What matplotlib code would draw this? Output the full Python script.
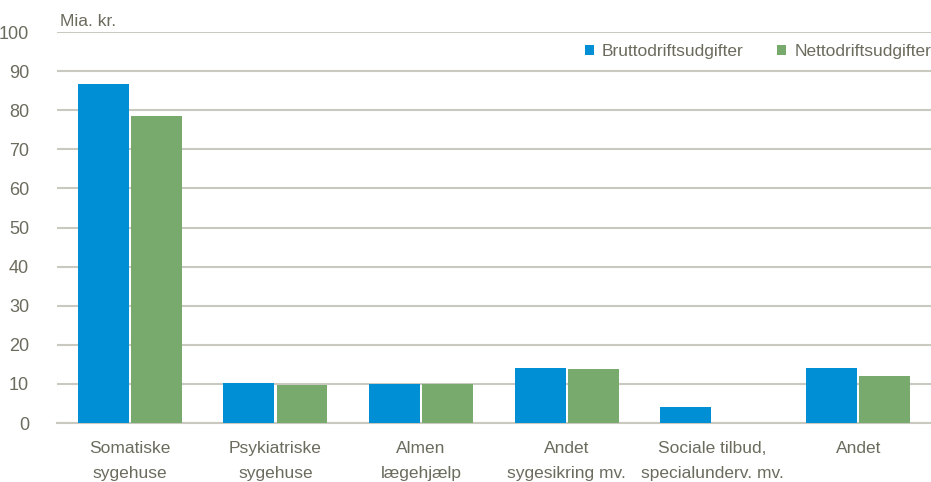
import matplotlib
matplotlib.use("Agg")
import matplotlib.pyplot as plt
import numpy as np

categories = ["Somatiske\nsygehuse", "Psykiatriske\nsygehuse", "Almen\nlægehjælp",
              "Andet\nsygesikring mv.", "Sociale tilbud,\nspecialunderv. mv.", "Andet"]
brutto = [86.8, 10.2, 10.0, 14.1, 4.1, 14.1]
netto = [78.6, 9.7, 9.9, 13.8, 0.0, 12.0]

plt.rcParams["font.family"] = ["Liberation Sans", "DejaVu Sans"]

text_color = "#6b6b5e"
grid_color = "#c9c9c0"
blue = "#008fd5"
green = "#78aa6e"
fs = 12.5

fig = plt.figure(figsize=(9.31, 4.82), dpi=100)
ax = fig.add_axes([0.0612, 0.1224, 0.9388, 0.8112])

x = np.arange(len(categories))
w = 0.35
ax.bar(x - w / 2 - 0.007, brutto, w, color=blue, label="Bruttodriftsudgifter", zorder=3)
ax.bar(x + w / 2 + 0.007, netto, w, color=green, label="Nettodriftsudgifter", zorder=3)

ax.set_xlim(-0.5, len(categories) - 0.5)
ax.set_ylim(0, 100)
ax.set_yticks(range(0, 101, 10))
ax.yaxis.grid(True, color=grid_color, linewidth=1.5, zorder=0)
ax.set_axisbelow(True)
for s in ["top", "right", "left"]:
    ax.spines[s].set_visible(False)
ax.spines["bottom"].set_color(grid_color)
ax.spines["bottom"].set_linewidth(1.5)

ax.tick_params(axis="y", length=0, pad=20, labelsize=fs + 0.5, labelcolor=text_color)
ax.tick_params(axis="x", length=0, pad=13, labelsize=fs, labelcolor=text_color)
ax.set_xticks(x)
ax.set_xticklabels(categories, linespacing=1.8)

fig.text(60 / 931, 1 - 22 / 482, "Mia. kr.", fontsize=fs, color=text_color, va="center")

leg = ax.legend(loc="center right", bbox_to_anchor=(1.0, 0.95), ncol=2, frameon=False,
                fontsize=fs, handlelength=0.55, handleheight=0.55, handletextpad=0.45,
                columnspacing=1.9, borderaxespad=0.0, borderpad=0.0)
for t in leg.get_texts():
    t.set_color(text_color)

fig.savefig("out.png", dpi=100)
